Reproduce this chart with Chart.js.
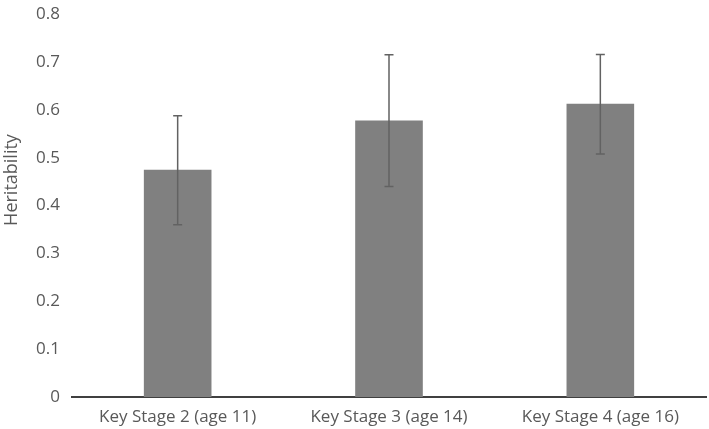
<!DOCTYPE html>
<html>
<head>
<meta charset="utf-8">
<script src="https://cdn.jsdelivr.net/npm/chart.js@4/dist/chart.umd.min.js"></script>
<style>
  html, body { margin: 0; padding: 0; background: #fff; }
  #wrap { width: 709px; height: 429px; position: relative; }
</style>
</head>
<body>
<div id="wrap"><canvas id="chart"></canvas></div>
<script>
// data
var categories = ["Key Stage 2 (age 11)", "Key Stage 3 (age 14)", "Key Stage 4 (age 16)"];
var heritability = [0.475, 0.578, 0.613];
var errLow = [0.36, 0.44, 0.508];
var errHigh = [0.588, 0.715, 0.716];
var yTicks = [0, 0.1, 0.2, 0.3, 0.4, 0.5, 0.6, 0.7, 0.8];
var yTitle = 'Heritability';

// whiskers, drawn through the y scale, plus the axis title
var errorBars = {
    id: 'errorBars',
    afterDatasetsDraw: function(chart) {
        var ctx = chart.ctx;
        var y = chart.scales.y;
        var meta = chart.getDatasetMeta(0);
        ctx.save();
        ctx.strokeStyle = '#626262';
        ctx.lineWidth = 1.5;
        meta.data.forEach(function(bar, i) {
            var top = y.getPixelForValue(errHigh[i]);
            var bot = y.getPixelForValue(errLow[i]);
            ctx.beginPath();
            ctx.moveTo(bar.x, top);
            ctx.lineTo(bar.x, bot);
            ctx.moveTo(bar.x - 4.5, top);
            ctx.lineTo(bar.x + 4.5, top);
            ctx.moveTo(bar.x - 4.5, bot);
            ctx.lineTo(bar.x + 4.5, bot);
            ctx.stroke();
        });
        // y title sits a bit above the middle, like the original
        ctx.translate(12, 180);
        ctx.rotate(-Math.PI / 2);
        ctx.fillStyle = '#595959';
        ctx.font = "18px 'Open Sans', sans-serif";
        ctx.textAlign = 'center';
        ctx.textBaseline = 'middle';
        ctx.fillText(yTitle, 0, 0);
        ctx.restore();
    }
};

Chart.defaults.font.family = "'Open Sans', 'Liberation Sans', sans-serif";
Chart.defaults.color = '#595959';

new Chart(document.getElementById('chart'), {
    type: 'bar',
    data: {
        labels: categories,
        datasets: [{
            label: 'Heritability',
            data: heritability,
            backgroundColor: '#808080',
            borderWidth: 0,
            categoryPercentage: 1,
            barPercentage: 0.32
        }]
    },
    options: {
        responsive: true,
        maintainAspectRatio: false,
        animation: false,
        layout: { padding: { top: 8, right: 3, left: 0, bottom: 0 } },
        plugins: {
            legend: { display: false },
            tooltip: { enabled: false }
        },
        scales: {
            x: {
                grid: { display: false },
                border: { display: true, color: '#404040', width: 2 },
                ticks: { font: { size: 17 }, color: '#595959', padding: 2 },
                afterFit: function(s) { s.height = 32; }
            },
            y: {
                min: 0,
                max: 0.8,
                grid: { display: false },
                border: { display: false },
                afterBuildTicks: function(s) {
                    s.ticks = yTicks.map(function(v) { return { value: v }; });
                },
                ticks: { font: { size: 17 }, color: '#595959', padding: 4 },
                afterFit: function(s) { s.width = 72; }
            }
        }
    },
    plugins: [errorBars]
});
</script>
</body>
</html>
